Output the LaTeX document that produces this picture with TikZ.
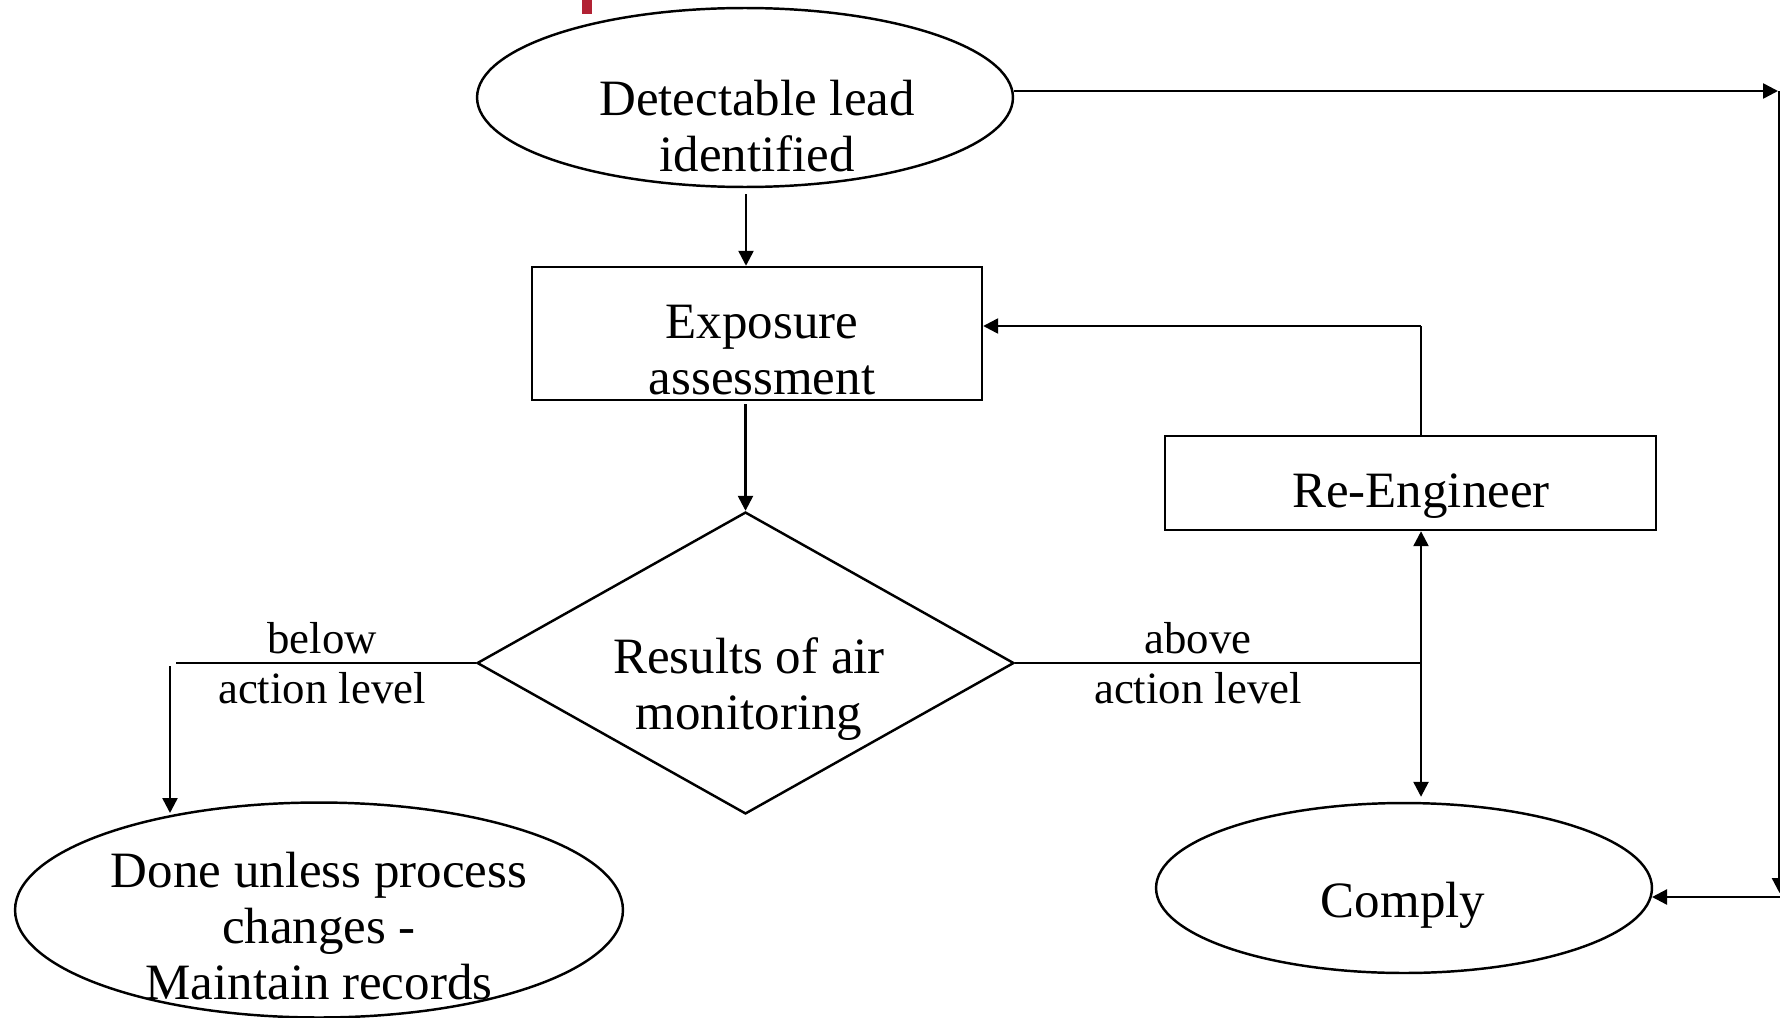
\documentclass[tikz,border=0pt]{standalone}
\usepackage{fontspec}
\setmainfont{Liberation Serif}
\usetikzlibrary{shapes.geometric,arrows.meta,calc}
\definecolor{markred}{RGB}{178,34,52}
\begin{document}
\begin{tikzpicture}[x=0.02cm,y=-0.02cm,
  line width=1.4pt,
  arr/.style={-{Triangle[length=0.3cm,width=0.3cm]}},
  shp/.style={draw,line width=1.4pt,inner sep=0pt},
  big/.style={font=\fontsize{29}{32}\selectfont,align=center,inner sep=0pt},
  lbl/.style={font=\fontsize{25.5}{27}\selectfont,inner sep=0pt}]
\useasboundingbox (0,0) rectangle (1780,1017);
\fill[markred] (582,0) rectangle (592,14);
% shapes
\node[shp,ellipse,minimum width=10.72cm,minimum height=3.58cm] (top) at (745,97.5) {};
\node[shp,rectangle,minimum width=9.0cm,minimum height=2.66cm] (expo) at (757,333.5) {};
\node[shp,diamond,minimum width=10.74cm,minimum height=6.04cm] (dia) at (745.5,663) {};
\node[shp,rectangle,minimum width=9.82cm,minimum height=1.88cm] (reeng) at (1410.5,483) {};
\node[shp,ellipse,minimum width=9.92cm,minimum height=3.4cm] (comply) at (1404,888) {};
\node[shp,ellipse,minimum width=12.16cm,minimum height=4.3cm] (done) at (319,910) {};
% texts
\node[big] (ttop) at (757,126) {Detectable lead\\identified};
\node[big] (texpo) at (762,350) {Exposure\\assessment};
\node[big] (tdia) at (749,689) {Results of air\\monitoring};
\node[big] (treeng) at (1421,496) {Re-Engineer};
\node[big] (tcomply) at (1403,905) {Comply};
\node[big] (tdone) at (319,926) {Done unless process\\changes -\\Maintain records};
\node[lbl] (lb1) at (322,638) {below};
\node[lbl] (lb2) at (322,688) {action level};
\node[lbl] (la1) at (1198,638) {above};
\node[lbl] (la2) at (1198,688) {action level};
% coordinates
\coordinate (J) at (1421,663);
\coordinate (R) at (1421,326);
\coordinate (L1) at (176,663);
\coordinate (L2) at (170,666);
\coordinate (TR) at (1778,91);
\coordinate (VR) at (1779.5,91);
\coordinate (VB) at (1779.5,893);
\coordinate (CR) at (1781,897);
% connectors
\draw[arr] ($(top.south)+(1,6)$) -- ($(expo.north)+(-11,0)$);
\draw[arr] ($(expo.south -| dia.north)+(0,3)$) -- (dia.north);
\draw (dia.east) -- (J);
\draw[arr] (J) -- (J |- reeng.south);
\draw[arr] (J) -- ($(J |- comply.north)+(0,-5)$);
\draw (J |- reeng.north) -- (R);
\draw[arr] (R) -- (R -| expo.east);
\draw (dia.west) -- (L1);
\draw[arr] (L2) -- (170,813);
\draw[arr] (1014,91) -- (TR);
\draw[arr] (VR) -- (VB);
\draw[arr] (CR) -- (1652,897);
\end{tikzpicture}
\end{document}
